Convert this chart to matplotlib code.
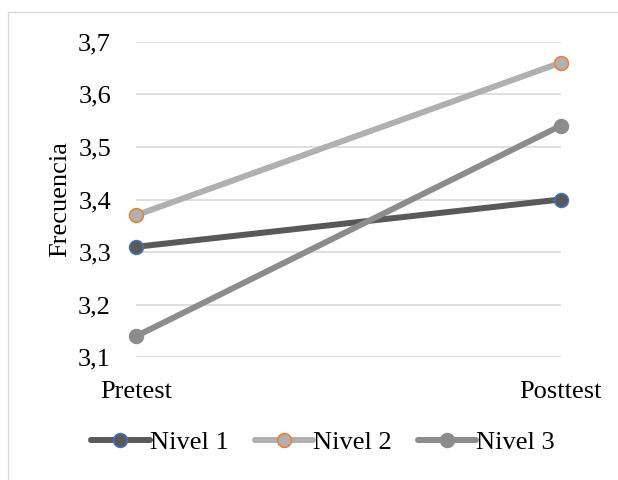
import numpy as np
import matplotlib
matplotlib.use('Agg')
import matplotlib.pyplot as plt
from matplotlib.patches import Rectangle

plt.rcParams['font.family'] = ['Liberation Serif', 'DejaVu Serif']

fases = ['Pretest', 'Posttest']
niveles = ['Nivel 1', 'Nivel 2', 'Nivel 3']
nivel1 = [3.31, 3.40]
nivel2 = [3.37, 3.66]
nivel3 = [3.14, 3.54]
yticks = [3.1, 3.2, 3.3, 3.4, 3.5, 3.6, 3.7]

line_cols = ['#595959', '#B0B0B0', '#8C8C8C']
edge_cols = ['#4472C4', '#ED7D31', '#8C8C8C']

fig = plt.figure(figsize=(6.18, 4.8), dpi=100)
ax = fig.add_axes([136 / 618, 1 - 357.3 / 480, (560.5 - 136) / 618, (357.3 - 41.7) / 480])

# marco del grafico
fig.patches.append(Rectangle((0.0135, -0.1), 1.1, 0.974 + 0.1, transform=fig.transFigure,
                             fill=False, edgecolor='#D9D9D9', linewidth=1))

x = np.arange(len(fases))
for serie, nombre, lc, ec in zip([nivel1, nivel2, nivel3], niveles, line_cols, edge_cols):
    ax.plot(x, serie, color=lc, linewidth=4.3, marker='o', markersize=10,
            markerfacecolor=lc, markeredgecolor=ec, markeredgewidth=1.1,
            label=nombre, solid_capstyle='round', clip_on=False, zorder=3)

ax.set_xlim(0, 1)
ax.set_ylim(3.1, 3.7)
ax.set_yticks(yticks)
ax.set_yticklabels([f'{v:.1f}'.replace('.', ',') for v in yticks])
ax.set_xticks(x)
ax.set_xticklabels(fases)
ax.tick_params(axis='both', length=0, labelsize=19, colors='black')
ax.tick_params(axis='y', pad=18)
ax.tick_params(axis='x', pad=17)
ax.grid(axis='y', color='#D9D9D9', linewidth=1.2)
ax.set_axisbelow(True)
for s in ax.spines.values():
    s.set_visible(False)

ax.set_ylabel('Frecuencia', fontsize=19, labelpad=5)

fig.legend(loc='center', bbox_to_anchor=(323 / 618, 1 - 442 / 480), ncol=3, frameon=False,
           fontsize=19, handlelength=2.2, handletextpad=0.0, columnspacing=1.0,
           borderpad=0, borderaxespad=0)

fig.savefig('out.png', dpi=100)
